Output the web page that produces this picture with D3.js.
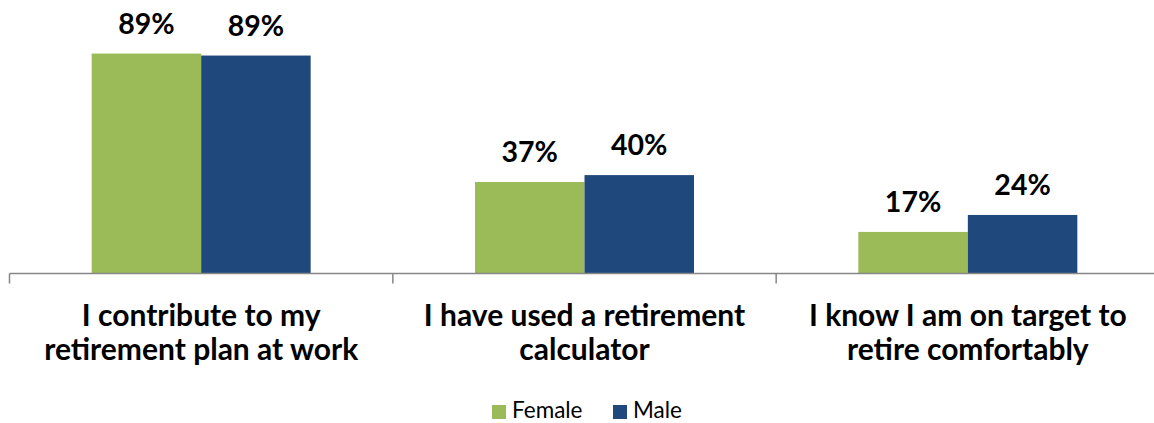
<!DOCTYPE html>
<html>
<head>
<meta charset="utf-8">
<script src="https://cdn.jsdelivr.net/npm/d3@7"></script>
<style>
    body { margin: 0; background: #fff; }
    svg { display: block; font-family: Lato, "Open Sans", sans-serif; }
</style>
</head>
<body>
<div id="chart"></div>
<script>
// Data
const categories = [
    ["I contribute to my", "retirement plan at work"],
    ["I have used a retirement", "calculator"],
    ["I know I am on target to", "retire comfortably"]
];
const seriesNames = ["Female", "Male"];
const female = [89.4, 37.2, 16.9];
const male = [88.6, 40.0, 23.8];
const colors = ["#9BBB59", "#1F497D"];

const width = 1154, height = 423;
const baseY = 273.5;

let svg = d3.select("#chart").append("svg")
    .attr("width", width)
    .attr("height", height);

let catIdx = categories.map((d, i) => i);

//X scale for groups
let x0 = d3.scaleBand()
    .domain(catIdx)
    .range([9.5, 1159.5])
    .paddingInner(0.4287)
    .paddingOuter(0.4287 / 2);

//X scale for series inside a group
let x1 = d3.scaleBand()
    .domain(seriesNames)
    .range([0, x0.bandwidth()]);

//Y scale
let y = d3.scaleLinear()
    .domain([0, 100])
    .range([baseY, baseY - 246]);

let rows = catIdx.map(i => ({i: i, values: [female[i], male[i]]}));

let groups = svg.append("g").selectAll("g")
    .data(rows)
    .join("g")
    .attr("transform", d => "translate(" + x0(d.i) + ",0)");

groups.selectAll("rect")
    .data(d => d.values.map((v, k) => ({name: seriesNames[k], value: v, k: k})))
    .join("rect")
    .attr("x", d => x1(d.name))
    .attr("y", d => y(d.value))
    .attr("width", x1.bandwidth())
    .attr("height", d => baseY - y(d.value))
    .attr("fill", d => colors[d.k]);

groups.selectAll("text.val")
    .data(d => d.values.map((v, k) => ({name: seriesNames[k], value: v})))
    .join("text")
    .attr("class", "val")
    .attr("x", d => x1(d.name) + x1.bandwidth() / 2)
    .attr("y", d => y(d.value) - 20)
    .attr("text-anchor", "middle")
    .attr("font-weight", "bold")
    .attr("font-size", 28.5)
    .attr("fill", "#000")
    .text(d => Math.round(d.value) + "%");

//Axis line with ticks between groups
let axis = svg.append("g").attr("stroke", "#868686").attr("stroke-width", 1.5);
axis.append("line")
    .attr("x1", x0.range()[0]).attr("x2", x0.range()[1])
    .attr("y1", baseY).attr("y2", baseY);
d3.range(categories.length + 1).forEach(i => {
    let tx = x0.range()[0] + i * x0.step();
    axis.append("line")
        .attr("x1", tx).attr("x2", tx)
        .attr("y1", baseY).attr("y2", baseY + 10);
});

//Category labels
let labels = svg.append("g").selectAll("text")
    .data(rows)
    .join("text")
    .attr("text-anchor", "middle")
    .attr("font-weight", "bold")
    .attr("font-size", 30)
    .attr("fill", "#000");
labels.selectAll("tspan")
    .data(d => categories[d.i].map(line => ({line: line, i: d.i})))
    .join("tspan")
    .attr("x", d => x0(d.i) + x0.bandwidth() / 2)
    .attr("y", (d, k) => 326 + k * 34)
    .text(d => d.line);

//Legend
let legend = svg.append("g");
let legendX = [492, 613];
seriesNames.forEach((name, k) => {
    legend.append("rect")
        .attr("x", legendX[k]).attr("y", 405)
        .attr("width", 14).attr("height", 14)
        .attr("fill", colors[k]);
    legend.append("text")
        .attr("x", legendX[k] + 20).attr("y", 418)
        .attr("font-size", 22.5)
        .attr("fill", "#000")
        .text(name);
});
</script>
</body>
</html>
